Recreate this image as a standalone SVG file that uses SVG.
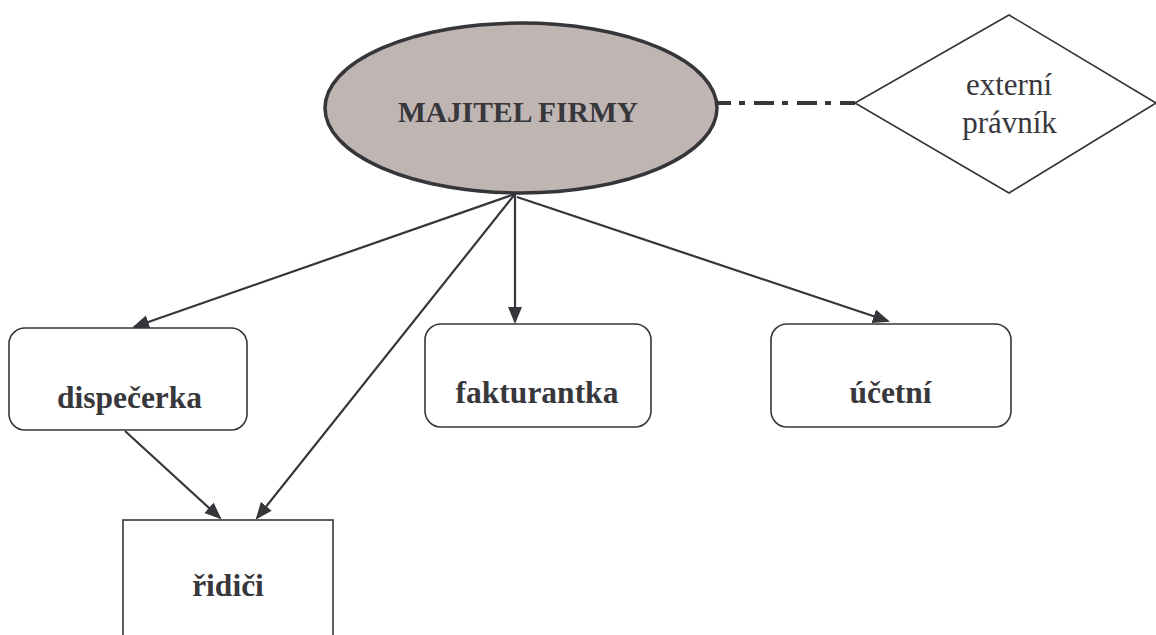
<svg xmlns="http://www.w3.org/2000/svg" width="1156" height="635" viewBox="0 0 1156 635">
  <style>
    .box { fill: #ffffff; stroke: #363539; stroke-width: 1.6; }
    .lbl { font-family: "Liberation Serif", "Times New Roman", serif; fill: #38373b; text-anchor: middle; }
    .bold { font-weight: bold; font-size: 31.5px; }
    .reg { font-size: 31px; }
    .arrow { stroke: #363539; stroke-width: 2.2; fill: none; marker-end: url(#head); }
  </style>
  <defs>
    <marker id="head" markerUnits="userSpaceOnUse" markerWidth="18" markerHeight="15" refX="15" refY="7" orient="auto">
      <path d="M0,0 L17,7 L0,14 z" fill="#363539"/>
    </marker>
  </defs>

  <rect width="1156" height="635" fill="#ffffff"/>

  <!-- connectors -->
  <g id="connectors">
    <line class="arrow" x1="515" y1="194" x2="134" y2="327"/>
    <line class="arrow" x1="515" y1="194" x2="257" y2="518"/>
    <line class="arrow" x1="515" y1="194" x2="515" y2="322"/>
    <line class="arrow" x1="517" y1="197" x2="888" y2="321"/>
    <line class="arrow" x1="125" y1="431" x2="220" y2="518"/>
    <line x1="717" y1="103" x2="855" y2="103" stroke="#363539" stroke-width="4" stroke-dasharray="20 8 6 9" stroke-dashoffset="6"/>
  </g>

  <!-- owner -->
  <g id="owner">
    <ellipse cx="521" cy="108" rx="196" ry="85" fill="#bfb5b3" stroke="#363539" stroke-width="3.5"/>
    <text class="lbl" x="518" y="122" font-weight="bold" font-size="29.5px">MAJITEL FIRMY</text>
  </g>

  <!-- external lawyer -->
  <g id="lawyer">
    <polygon points="855,103 1009,15 1156,103 1009,193" fill="#ffffff" stroke="#363539" stroke-width="1.6"/>
    <text class="lbl reg" x="1009" y="95">externí</text>
    <text class="lbl reg" x="1009.5" y="133">právník</text>
  </g>

  <!-- dispatcher -->
  <g id="dispecerka">
    <rect class="box" x="9" y="328" width="238" height="102" rx="16"/>
    <text class="lbl bold" x="129.5" y="408">dispečerka</text>
  </g>

  <!-- invoicing -->
  <g id="fakturantka">
    <rect class="box" x="425" y="324" width="226" height="103" rx="16"/>
    <text class="lbl bold" x="537" y="403">fakturantka</text>
  </g>

  <!-- accountant -->
  <g id="ucetni">
    <rect class="box" x="771" y="324" width="240" height="103" rx="16"/>
    <text class="lbl bold" x="890.5" y="403">účetní</text>
  </g>

  <!-- drivers -->
  <g id="ridici">
    <rect class="box" x="123" y="520" width="210" height="140"/>
    <text class="lbl bold" x="228" y="596">řidiči</text>
  </g>
</svg>
